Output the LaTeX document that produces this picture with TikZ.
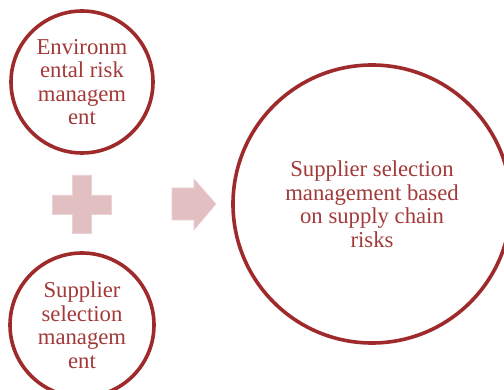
\documentclass[tikz,border=0pt]{standalone}
\usepackage{fontspec}
\setmainfont{Liberation Serif}
\definecolor{ringred}{HTML}{9E2A2B}
\definecolor{txtred}{HTML}{A33A3A}
\definecolor{pinkfill}{HTML}{E2BFC1}
\begin{document}
\begin{tikzpicture}[x=1pt,y=-1pt,
  ring/.style={circle, draw=ringred, line width=3.6pt, fill=white, inner sep=0pt,
    text=txtred, align=center, font=\fontsize{22.7}{23.5}\selectfont},
  pinkshape/.style={fill=pinkfill, draw=pinkfill!70!white, line width=0.6pt}]
\useasboundingbox (0,0) rectangle (504,390);
\node[ring, minimum size=142pt] (env) at (82,82) {Environm\\ental risk\\managem\\ent};
\node[ring, minimum size=144pt] (sup) at (82,325) {Supplier\\selection\\managem\\ent};
\node[ring, minimum size=278pt] (res) at (372,204) {Supplier selection\\management based\\on supply chain\\risks};
% plus sign
\path[pinkshape] (72,175) -- (91,175) -- (91,195) -- (111,195) -- (111,214) -- (91,214)
  -- (91,233) -- (72,233) -- (72,214) -- (52,214) -- (52,195) -- (72,195) -- cycle;
% arrow
\path[pinkshape] (172,188) -- (194,188) -- (194,179) -- (216,204) -- (194,230)
  -- (194,220) -- (172,220) -- cycle;
\end{tikzpicture}
\end{document}
